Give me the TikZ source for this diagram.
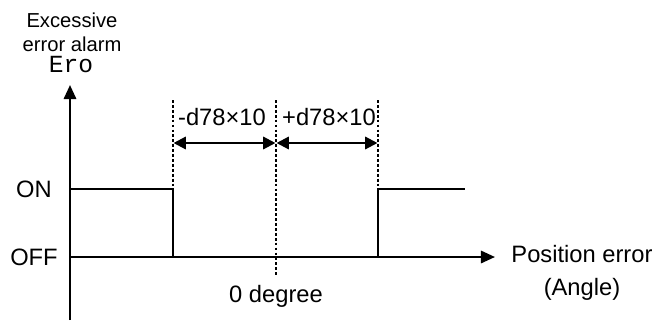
\documentclass[tikz,border=0pt]{standalone}
\usepackage{fontspec}
\setmainfont{Liberation Sans}
\newfontfamily\segfont{Liberation Mono}
\usetikzlibrary{positioning, arrows.meta}
\tikzset{
  % signal and axes
  axis/.style={
    line width=1.3pt, -{Triangle[length=8pt, width=7pt]}
  },
  signal/.style={
    line width=1.3pt
  },
  % guide lines
  guide/.style={
    line width=1pt, dash pattern=on 1.6pt off 1.2pt
  },
  % width arrows
  span/.style={
    line width=1.3pt, {Triangle[length=7pt, width=7pt]}-{Triangle[length=7pt, width=7pt]},
    shorten >=0.3pt, shorten <=0.3pt
  },
  lbl/.style={
    font=\fontsize{13.5}{16}\selectfont, inner sep=0pt, align=center
  },
  lblSmall/.style={
    font=\fontsize{11.5}{13}\selectfont, inner sep=0pt, align=center
  },
}

\begin{document}
\begin{tikzpicture}[x=0.02cm, y=-0.02cm]
  \useasboundingbox (0,0) rectangle (657,322);

  %% ── Key points ──
  \coordinate (yBot)   at (70,320);
  \coordinate (yTop)   at (70,85);
  \coordinate (orig)   at (70,257);
  \coordinate (xEnd)   at (495,257);
  \coordinate (onL)    at (70,189);
  \coordinate (fallT)  at (173,189);
  \coordinate (fallB)  at (173,257);
  \coordinate (riseB)  at (378,257);
  \coordinate (riseT)  at (378,189);
  \coordinate (onR)    at (465,189);
  \coordinate (gL)     at (173,100);
  \coordinate (gM)     at (276,100);
  \coordinate (gMB)    at (276,276);
  \coordinate (gR)     at (378,100);
  \coordinate (aL)     at (173,143);
  \coordinate (aM)     at (276,143);
  \coordinate (aR)     at (378,143);

  %% ── Axes ──
  \draw[axis] (yBot) -- (yTop);
  \draw[axis] (orig) -- (xEnd);

  %% ── Signal ──
  \draw[signal] (onL) -- (fallT) -- (fallB);
  \draw[signal] (riseB) -- (riseT) -- (onR);

  %% ── Guides ──
  \draw[guide] (gL) -- (fallT);
  \draw[guide] (gM) -- (gMB);
  \draw[guide] (gR) -- (riseT);

  %% ── Widths ──
  \draw[span] (aL) -- (aM);
  \draw[span] (aM) -- (aR);

  %% ── Labels ──
  \node[lbl] (minus) at (222,117) {-d78×10};
  \node[lbl] (plus)  at (329,117) {+d78×10};
  \node[lbl] (zero)  at (276,296) {0 degree};
  \node[lbl] (on)    at (34,189)  {ON};
  \node[lbl] (off)   at (34,257)  {OFF};
  \node[lbl] (pos)   at (582,254) {Position error};
  \node[lbl, below=0.3cm of pos] (ang) {(Angle)};
  \node[lblSmall] (exc) at (72,20) {Excessive};
  \node[lblSmall, below=0.17cm of exc] (alarm) {error alarm};
  \node[font=\fontsize{14}{16}\selectfont\segfont, inner sep=0pt] (ero) at (71,65) {Ero};

\end{tikzpicture}
\end{document}
